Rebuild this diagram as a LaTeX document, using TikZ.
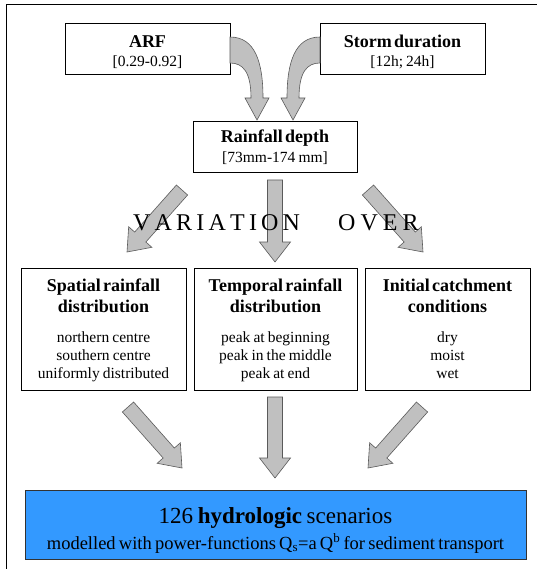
\documentclass[tikz,border=0pt]{standalone}
\usepackage{fontspec}
\setmainfont{Liberation Serif}
\newfontfamily\tnr{Liberation Serif}
\usetikzlibrary{calc}
\definecolor{blu}{RGB}{51,153,255}
\definecolor{arrgray}{RGB}{192,192,192}
\definecolor{arredge}{RGB}{90,90,90}
\newcommand{\tightsp}[1]{\spaceskip=#1\fontdimen2\font plus 0.1em minus 0.05em\relax}
% block arrow: start, end, half shaft width, half head width, head length
\newcommand{\blkarrow}[5]{%
  \path ($(#2)!#5!(#1)$) coordinate (bh);
  \draw[blk] ($(#1)!#3!90:(#2)$) -- ($(bh)!#3!90:(#2)$) -- ($(bh)!#4!90:(#2)$) -- (#2)
    -- ($(bh)!#4!-90:(#2)$) -- ($(bh)!#3!-90:(#2)$) -- ($(#1)!#3!-90:(#2)$) -- cycle;}
\begin{document}
\begin{tikzpicture}[x=1pt,y=-1pt,
  box/.style={draw=black, line width=0.9pt, fill=white, inner sep=0pt},
  bluebox/.style={draw=black!80, line width=1pt, fill=blu, inner sep=0pt},
  ttl/.style={font=\tnr\fontsize{18}{20}\selectfont\bfseries\tightsp{0.5}, anchor=base, inner sep=0pt},
  itm/.style={font=\tnr\fontsize{15.5}{18}\selectfont\tightsp{0.8}, anchor=base, inner sep=0pt},
  big/.style={font=\tnr\fontsize{24}{26}\selectfont, anchor=base west, inner sep=0pt},
  blk/.style={fill=arrgray, draw=arredge, line width=0.6pt, line join=miter}]
\useasboundingbox (0,0) rectangle (537,569);
\fill[white] (0,0) rectangle (537,569);
% frame (top and left only)
\draw[line width=1pt] (6,569) -- (6,5) -- (537,5);

% boxes
\node[box, minimum width=165pt, minimum height=51pt] (arf) at (147.5,48.5) {};
\node[box, minimum width=165pt, minimum height=51pt] (storm) at (402.5,48.5) {};
\node[box, minimum width=164pt, minimum height=51pt] (rain) at (275,146.5) {};
\node[box, minimum width=165pt, minimum height=122pt] (spat) at (103.5,329) {};
\node[box, minimum width=163pt, minimum height=122pt] (temp) at (275.5,329) {};
\node[box, minimum width=165pt, minimum height=122pt] (init) at (447.5,329) {};
\node[bluebox, minimum width=501pt, minimum height=69pt] (scen) at (275.5,524.5) {};

% texts
\node[ttl] (arft) at (147.5,48) {ARF};
\node[itm] (arfv) at (147.5,67) {[0.29-0.92]};
\node[ttl] (stt) at (402.5,48) {Storm duration};
\node[itm] (stv) at (402.5,67) {[12h; 24h]};
\node[ttl] (rnt) at (275,143) {Rainfall depth};
\node[itm] (rnv) at (275,163) {[73mm-174 mm]};

\node[ttl] (sp1) at (103.5,291) {Spatial rainfall};
\node[ttl] (sp2) at (103.5,312) {distribution};
\node[itm] (sp3) at (103.5,342) {northern centre};
\node[itm] (sp4) at (103.5,360) {southern centre};
\node[itm] (sp5) at (103.5,378) {uniformly distributed};

\node[ttl] (tp1) at (275.5,291) {Temporal rainfall};
\node[ttl] (tp2) at (275.5,312) {distribution};
\node[itm] (tp3) at (275.5,342) {peak at beginning};
\node[itm] (tp4) at (275.5,360) {peak in the middle};
\node[itm] (tp5) at (275.5,378) {peak at end};

\node[ttl] (in1) at (447.5,291) {Initial catchment};
\node[ttl] (in2) at (447.5,312) {conditions};
\node[itm] (in3) at (447.5,342) {dry};
\node[itm] (in4) at (447.5,360) {moist};
\node[itm] (in5) at (447.5,378) {wet};

\node[anchor=base, inner sep=0pt, font=\tnr\fontsize{23}{25}\selectfont\tightsp{0.8}] (sc1) at (275.5,523) {126 \textbf{hydrologic} scenarios};
\node[anchor=base, inner sep=0pt, font=\tnr\fontsize{18.5}{20}\selectfont\tightsp{0.7}] (sc2) at (275.5,549) {modelled with power-functions Q\textsubscript{s}=a Q\textsuperscript{b} for sediment transport};

% curved arrows into rainfall depth
\coordinate (arfout) at (230,50);
\coordinate (arftip) at (257,120);
\draw[blk] (230,37) .. controls (255,37) and (263,62) .. (263,98) -- (269,98) -- (arftip) -- (245,98) -- (251,98)
  .. controls (251,72) and (243,63) .. (230,63) -- cycle;
\coordinate (stout) at (320,50);
\coordinate (sttip) at (293,120);
\draw[blk] (320,37) .. controls (295,37) and (287,62) .. (287,98) -- (281,98) -- (sttip) -- (305,98) -- (299,98)
  .. controls (299,72) and (307,63) .. (320,63) -- cycle;

% straight arrows
\coordinate (d1s) at (182,190); \coordinate (d1e) at (127,252);
\coordinate (d2s) at (275,180); \coordinate (d2e) at (275,262);
\coordinate (d3s) at (368,190); \coordinate (d3e) at (423,252);
\coordinate (u1s) at (128,407); \coordinate (u1e) at (182,468);
\coordinate (u2s) at (275,397); \coordinate (u2e) at (275,478);
\coordinate (u3s) at (422,407); \coordinate (u3e) at (368,468);
\blkarrow{d1s}{d1e}{7.5pt}{15.5pt}{20pt}
\blkarrow{d2s}{d2e}{7.5pt}{15.5pt}{20pt}
\blkarrow{d3s}{d3e}{7.5pt}{15.5pt}{20pt}
\blkarrow{u1s}{u1e}{7.5pt}{15.5pt}{20pt}
\blkarrow{u2s}{u2e}{7.5pt}{15.5pt}{20pt}
\blkarrow{u3s}{u3e}{7.5pt}{15.5pt}{20pt}

% VARIATION OVER (spaced letters, on top of arrows)
\foreach \l/\x [count=\i] in {V/133,A/154.5,R/176,I/196.2,A/208.4,T/229.9,I/248.8,O/261,N/282.5}
  \node[big] (var\i) at (\x,230) {\l};
\foreach \l/\x [count=\i] in {O/338,V/360.3,E/382.6,R/402.3}
  \node[big] (ovr\i) at (\x,230) {\l};
\end{tikzpicture}
\end{document}
